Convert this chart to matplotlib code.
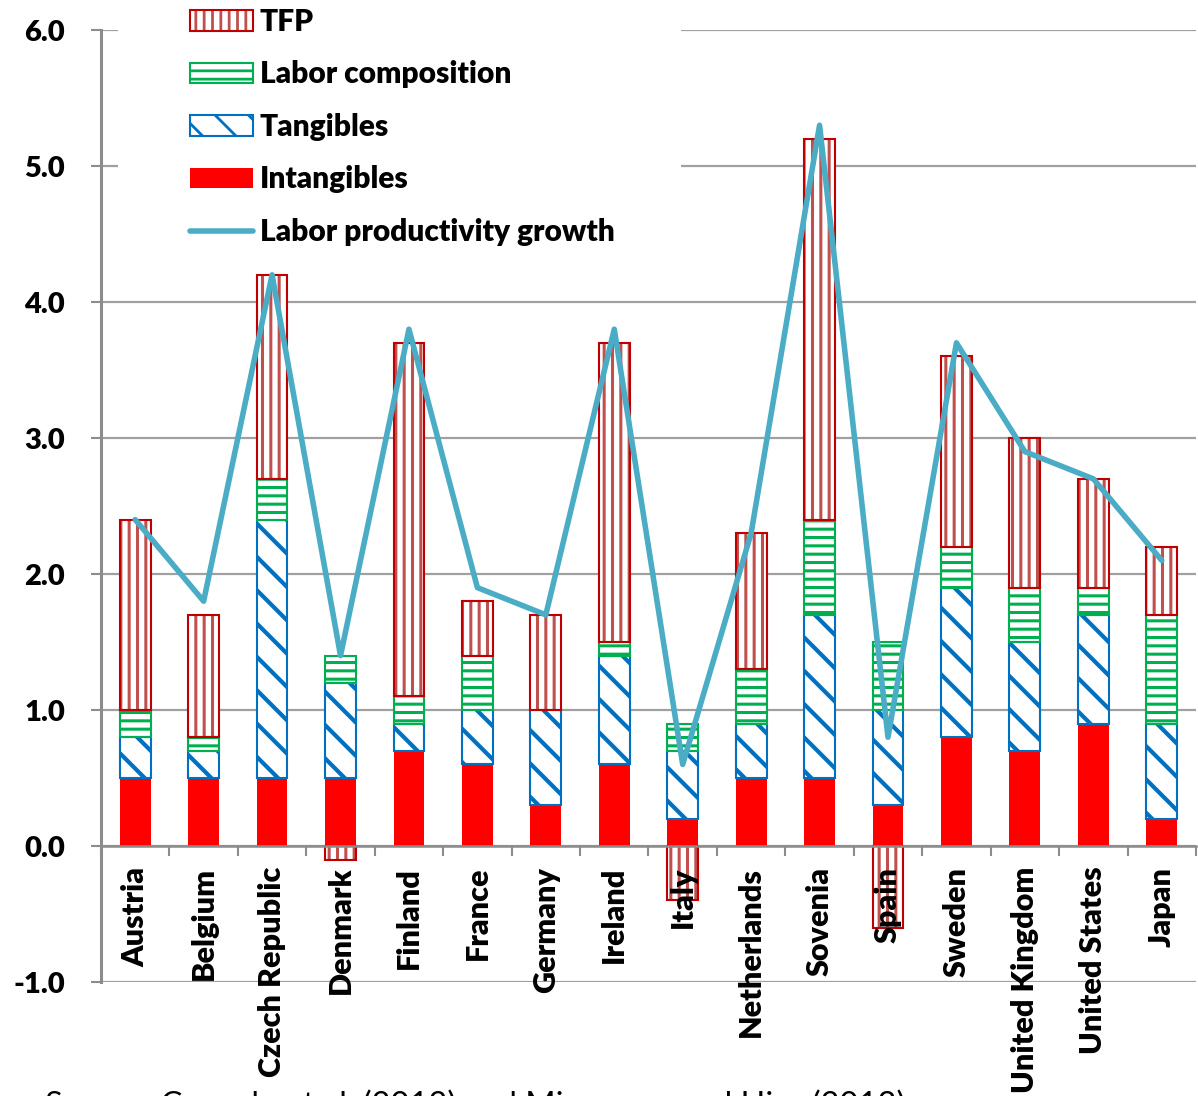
import numpy as np
import matplotlib as mpl
import matplotlib.pyplot as plt
from matplotlib.patches import Patch, Rectangle
from matplotlib.lines import Line2D

plt.rcParams['font.family'] = ['Lato', 'DejaVu Sans']
plt.rcParams['font.weight'] = 'heavy'
plt.rcParams['hatch.linewidth'] = 2.0
plt.rcParams['axes.unicode_minus'] = False

# contributions to labor productivity growth (%)
countries = ['Austria', 'Belgium', 'Czech Republic', 'Denmark', 'Finland', 'France',
             'Germany', 'Ireland', 'Italy', 'Netherlands', 'Sovenia', 'Spain',
             'Sweden', 'United Kingdom', 'United States', 'Japan']
intangibles = [0.5, 0.5, 0.5, 0.5, 0.7, 0.6, 0.3, 0.6, 0.2, 0.5, 0.5, 0.3, 0.8, 0.7, 0.9, 0.2]
tangibles = [0.3, 0.2, 1.9, 0.7, 0.2, 0.4, 0.7, 0.8, 0.5, 0.4, 1.2, 0.7, 1.1, 0.8, 0.8, 0.7]
labor_comp = [0.2, 0.1, 0.3, 0.2, 0.2, 0.4, 0.0, 0.1, 0.2, 0.4, 0.7, 0.5, 0.3, 0.4, 0.2, 0.8]
tfp = [1.4, 0.9, 1.5, -0.1, 2.6, 0.4, 0.7, 2.2, -0.4, 1.0, 2.8, -0.6, 1.4, 1.1, 0.8, 0.5]
lp_growth = [2.4, 1.8, 4.2, 1.4, 3.8, 1.9, 1.7, 3.8, 0.6, 2.3, 5.3, 0.8, 3.7, 2.9, 2.7, 2.1]
yticks = [-1, 0, 1, 2, 3, 4, 5, 6]

fig = plt.figure(figsize=(11.98, 10.96), dpi=100)
ax = fig.add_axes([0.0843, 0.104, 0.914, 0.8686])

n = len(countries)
x = np.arange(n)
w = 0.45
gray = '#8c8c8c'

# (values, fill, stripe colour, border colour, hatch, hatch width)
series = [
    (intangibles, '#ff0000', None, '#ff0000', None, 2.0),
    (tangibles, 'white', '#0070c0', '#0070c0', '\\', 3.0),
    (labor_comp, 'white', '#00b050', '#00b050', '--', 2.2),
    (tfp, 'white', '#c0504d', '#c00000', '||', 2.2),
]

up = np.zeros(n)
down = np.zeros(n)
for vals, face, stripe, edge, hatch, hlw in series:
    v = np.array(vals)
    base = np.where(v >= 0, up, down)
    lw = np.where(v != 0, 1.5, 0)
    if hatch:
        with mpl.rc_context({'hatch.linewidth': hlw}):
            ax.bar(x, v, w, bottom=base, color='white', edgecolor=stripe,
                   hatch=hatch, linewidth=0, zorder=2)
        ax.bar(x, v, w, bottom=base, fill=False, edgecolor=edge,
               linewidth=lw, zorder=2.1)
    else:
        ax.bar(x, v, w, bottom=base, color=face, linewidth=0, zorder=2)
    up = up + np.where(v > 0, v, 0)
    down = down + np.where(v < 0, v, 0)

ax.plot(x, lp_growth, color='#4bacc6', lw=4.0, solid_joinstyle='round',
        solid_capstyle='round', zorder=3)

ax.set_xlim(-0.5, n - 0.5)
ax.set_ylim(-1, 6)
ax.set_yticks(yticks)
ax.set_yticklabels([f'{v:.1f}' for v in yticks])
ax.yaxis.grid(True, color='#a0a0a0', lw=1.6)
ax.set_axisbelow(True)
ax.xaxis.set_zorder(4)  # country names sit on top of the negative bars

for s in ['top', 'right']:
    ax.spines[s].set_visible(False)
ax.spines['left'].set_color(gray)
ax.spines['left'].set_linewidth(2.2)
ax.spines['bottom'].set_position(('data', 0))
ax.spines['bottom'].set_color(gray)
ax.spines['bottom'].set_linewidth(1.8)

ax.tick_params(axis='y', direction='out', length=7, width=1.5, color=gray,
               pad=19, labelsize=21)
ax.set_xticks(x)
ax.set_xticklabels(countries, rotation=90, fontsize=22)
ax.tick_params(axis='x', which='major', length=0, pad=15)
ax.set_xticks(np.arange(-0.5, n, 1), minor=True)
ax.tick_params(axis='x', which='minor', direction='out', length=7, width=1.5, color=gray)

# white panel behind the legend
ax.add_patch(Rectangle((0.0155, 0.80), 0.514, 0.25, transform=ax.transAxes,
                       facecolor='white', edgecolor='none', zorder=1, clip_on=False))

with mpl.rc_context({'hatch.linewidth': 2.2}):
    handles = [
        (Patch(facecolor='white', edgecolor='#c0504d', hatch='||', linewidth=0),
         Patch(fill=False, edgecolor='#c00000', linewidth=1.5)),
        (Patch(facecolor='white', edgecolor='#00b050', hatch='--', linewidth=0),
         Patch(fill=False, edgecolor='#00b050', linewidth=1.5)),
        (Patch(facecolor='white', edgecolor='#0070c0', hatch='\\', linewidth=0),
         Patch(fill=False, edgecolor='#0070c0', linewidth=1.5)),
        Patch(facecolor='#ff0000', linewidth=0),
        Line2D([], [], color='#4bacc6', lw=4.0, solid_capstyle='round'),
    ]
labels = ['TFP', 'Labor composition', 'Tangibles', 'Intangibles',
          'Labor productivity growth']
fig.legend(handles, labels, loc='upper left', bbox_to_anchor=(190 / 1198, 1 - 8 / 1096),
           frameon=False, borderpad=0, borderaxespad=0, fontsize=21.5,
           handlelength=2.1, handleheight=0.67, handletextpad=0.23, labelspacing=0.82)

fig.text(45 / 1198, 1 - 1089 / 1096,
         'Source: Corrado et al. (2012) and Miyagawa and Hisa (2013)',
         fontsize=23.5, fontweight='normal', va='top')

fig.savefig('out.png', dpi=100)
